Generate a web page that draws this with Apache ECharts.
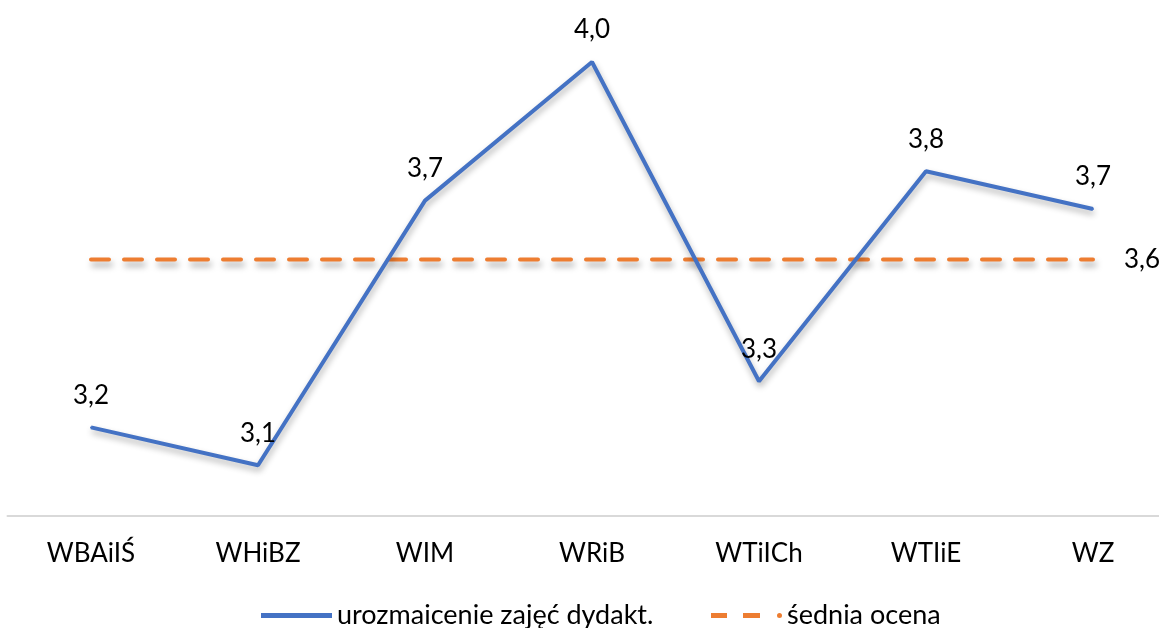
<!DOCTYPE html>
<html><head><meta charset="utf-8">
<script src="https://cdn.jsdelivr.net/npm/echarts@6/dist/echarts.min.js"></script>
<style>html,body{margin:0;padding:0;background:#fff;overflow:hidden;width:1159px;height:628px}#c{width:1180px;height:628px}</style>
</head><body><div id="c"></div>
<script>
const categories = ['WBAiIŚ','WHiBZ','WIM','WRiB','WTiICh','WTIiE','WZ'];
const variety = [3.17, 3.08, 3.71, 4.04, 3.28, 3.78, 3.69];
const average = [3.57, 3.57, 3.57, 3.57, 3.57, 3.57, 3.57];
const seriesNames = ['urozmaicenie zajęć dydakt.', 'śednia ocena'];

const FONT = 'Lato';
const fmt = p => p.value.toFixed(1).replace('.', ',');
const BLUE = '#4472c4', ORANGE = '#ed7d31';
const iconBlue = 'path://M0,0H71V5H0Z';
const iconOrange = 'path://M0,0H16V5H0Z M32,0H49V5H32Z M66,2.5a2.5,2.5 0 1,0 5,0a2.5,2.5 0 1,0 -5,0Z';
const legendBase = {
  top: 597, itemWidth: 71, itemHeight: 5, itemGap: 0,
  textStyle: {fontFamily: FONT, fontSize: 27, color: '#000'}
};
const chart = echarts.init(document.getElementById('c'));
chart.setOption({
  animation: false,
  backgroundColor: '#fff',
  textStyle: {fontFamily: FONT},
  grid: {left: 7.5, right: 3.5, top: 36.8, bottom: 112.4, containLabel: false},
  legend: [
    Object.assign({left: 256, data: [{name: seriesNames[0], icon: iconBlue, itemStyle: {color: BLUE, opacity: 1}}]}, legendBase),
    Object.assign({left: 706, data: [{name: seriesNames[1], icon: iconOrange, itemStyle: {color: ORANGE, opacity: 1}}]}, legendBase)
  ],
  xAxis: {
    type: 'category', data: categories, boundaryGap: true,
    axisLine: {lineStyle: {color: '#d9d9d9', width: 2}},
    axisTick: {show: false},
    axisLabel: {fontFamily: FONT, fontSize: 26, color: '#000', margin: 25}
  },
  yAxis: {type: 'value', min: 2.96, max: 4.1, show: false, splitLine: {show: false}},
  series: [
    {
      name: seriesNames[0], type: 'line', data: variety, symbol: 'circle', symbolSize: 2, showSymbol: true, z: 3,
      lineStyle: {color: BLUE, width: 4, shadowColor: 'rgba(0,0,0,0.3)', shadowBlur: 6, shadowOffsetY: 4, shadowOffsetX: 1},
      itemStyle: {color: BLUE},
      label: {show: true, position: 'top', distance: 18, fontFamily: FONT, fontSize: 26, color: '#000', formatter: fmt}
    },
    {
      name: seriesNames[1], type: 'line', data: average, symbol: 'circle', symbolSize: 2, showSymbol: true, z: 2,
      lineStyle: {color: ORANGE, width: 4, type: [18, 15], cap: 'round', shadowColor: 'rgba(0,0,0,0.35)', shadowBlur: 6, shadowOffsetY: 5, shadowOffsetX: 2},
      itemStyle: {color: ORANGE},
      label: {show: true, position: 'right', distance: 30, fontFamily: FONT, fontSize: 26, color: '#000',
        formatter: p => p.dataIndex === average.length - 1 ? fmt(p) : ''}
    }
  ]
});
</script></body></html>
